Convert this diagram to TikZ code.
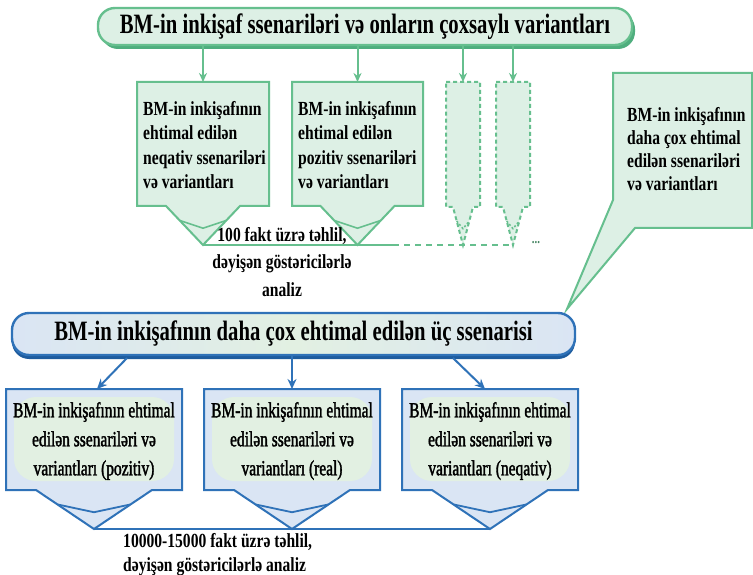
\documentclass[tikz,border=0pt]{standalone}
\usepackage{fontspec}
\setmainfont{Liberation Serif}
\newfontfamily\cbold[FakeStretch=0.78]{Liberation Serif}
\newfontfamily\cboldb[FakeStretch=0.74]{Liberation Serif}
\newfontfamily\creg[FakeStretch=0.72,FakeBold=1.6]{Liberation Serif}
\usetikzlibrary{arrows.meta,shadows,calc}
\definecolor{gline}{HTML}{66BF8E}
\definecolor{gfill}{HTML}{DDF0E5}
\definecolor{gshadow}{HTML}{4FAE7E}
\definecolor{bline}{HTML}{2F72B8}
\definecolor{bfill}{HTML}{DAE5F4}
\definecolor{bshadow}{HTML}{1E5C9E}
\definecolor{blob}{HTML}{E2F0E2}
\newcommand\ptrbox[9]{%
  \pgfmathsetmacro\pbcx{(#2+#3)/2}%
  \pgfmathsetmacro\pbya{#5+0.37*(#7-#5)}%
  \pgfmathsetmacro\pbyb{#5+0.57*(#7-#5)}%
  \pgfmathsetmacro\pbxa{0.63*#6}%
  \draw[#1] (#2,#4) -- (#3,#4) -- (#3,#5) -- (\pbcx+#6,#5) -- (\pbcx,#7) -- (\pbcx-#6,#5) -- (#2,#5) -- cycle;
  \draw[#9] (\pbcx-\pbxa,\pbya) -- (\pbcx,\pbyb) -- (\pbcx+\pbxa,\pbya);
  \coordinate (#8top) at (\pbcx,#4);
  \coordinate (#8tip) at (\pbcx,#7);
}
\tikzset{
  gbox/.style={draw=gline, fill=gfill, line width=2pt, line join=miter},
  gin/.style={draw=gline, line width=1.6pt},
  gdash/.style={draw=gline, fill=gfill, line width=2pt, dash pattern=on 4pt off 3pt},
  gdashin/.style={draw=gline, line width=1.5pt, dash pattern=on 2pt off 2pt},
  bbox/.style={draw=bline, fill=bfill, line width=2pt, line join=miter},
  bin/.style={draw=bline, line width=1.8pt},
  garrow/.style={draw=gline, line width=2pt, -{Stealth[length=9pt,width=8pt]}},
  barrow/.style={draw=bline, line width=2pt, -{Stealth[length=10pt,width=9pt]}},
  gtext/.style={inner sep=0pt, align=left, font=\cbold\bfseries\fontsize{20}{24.5}\selectfont},
  btext/.style={inner sep=0pt, align=center, font=\creg\fontsize{21.5}{29}\selectfont},
  ftext/.style={inner sep=0pt, font=\cbold\bfseries\fontsize{20}{27.5}\selectfont},
}
\begin{document}
\begin{tikzpicture}[x=1pt,y=-1pt]
\useasboundingbox (0,0) rectangle (753,575);
\fill[white] (0,0) rectangle (753,575);

% top banner
\node[draw=gline, line width=2.4pt, fill=gfill, rounded corners=17pt,
      minimum width=534pt, minimum height=37pt, inner sep=0pt,
      drop shadow={shadow xshift=3pt, shadow yshift=-4pt, fill=gshadow, opacity=1},
      font=\cboldb\bfseries\fontsize{28}{30}\selectfont]
  (topb) at (365,26.5) {BM-in inkişaf ssenariləri və onların çoxsaylı variantları};

% right callout
\draw[gbox] (613,73) -- (752,73) -- (752,228) -- (635,228) -- (567,309) -- (613,200) -- cycle;
\node[gtext, anchor=west, font=\cbold\bfseries\fontsize{20}{23}\selectfont] (tC) at (627,149)
  {BM-in inkişafının\\daha çox ehtimal\\edilən ssenariləri\\və variantları};

% green boxes
\ptrbox{gbox}{137}{269}{82}{206}{37}{245}{A}{gin}
\ptrbox{gbox}{292}{423}{82}{206}{37}{245}{B}{gin}
\ptrbox{gdash}{446}{480}{82}{207}{10}{245}{D}{gdashin}
\ptrbox{gdash}{496}{530}{82}{207}{10}{245}{E}{gdashin}

\node[gtext, anchor=west] (tA) at (143,145) {BM-in inkişafının\\ehtimal edilən\\neqativ ssenariləri\\və variantları};
\node[gtext, anchor=west] (tB) at (298,145) {BM-in inkişafının\\ehtimal edilən\\pozitiv ssenariləri\\və variantları};

% green arrows
\draw[garrow] (topb.south -| Atop) -- (Atop);
\draw[garrow] (topb.south -| Btop) -- (Btop);
\draw[garrow] (topb.south -| Dtop) -- (Dtop);
\draw[garrow] (topb.south -| Etop) -- (Etop);

% connecting line (top)
\coordinate (gsplit) at (393,245);
\draw[gline, line width=2pt] (Atip) -- (Btip) -- (gsplit);
\draw[gline, line width=2pt, dash pattern=on 6pt off 5pt] (gsplit) -- (Dtip) -- (Etip);
\node[inner sep=0pt, font=\cbold\bfseries\fontsize{14}{14}\selectfont, text=gline!70!black] (dots) at (536,243) {...};

\node[ftext, align=center] (f1) at (282,262) {100 fakt üzrə təhlil,\\dəyişən göstəricilərlə\\analiz};

% middle banner
\node[draw=bline, line width=2.4pt, left color=bfill, right color=bfill, middle color=blob,
      rounded corners=17pt, minimum width=563pt, minimum height=42pt, inner sep=0pt,
      drop shadow={shadow xshift=0pt, shadow yshift=-4pt, fill=bshadow, opacity=1},
      font=\cboldb\bfseries\fontsize{28}{30}\selectfont]
  (midb) at (293.5,334) {BM-in inkişafının daha çox ehtimal edilən üç ssenarisi};

% bottom boxes
\ptrbox{bbox}{6}{182}{389}{490}{58}{529}{P}{bin}
\ptrbox{bbox}{204}{380}{389}{490}{58}{529}{R}{bin}
\ptrbox{bbox}{402}{578}{389}{490}{58}{529}{N}{bin}
\fill[blob, rounded corners=22pt] (14,397) rectangle (174,481);
\fill[blob, rounded corners=22pt] (212,397) rectangle (372,481);
\fill[blob, rounded corners=22pt] (410,397) rectangle (570,481);

\node[btext] (tP) at (94,441) {BM-in inkişafının ehtimal\\edilən ssenariləri və\\variantları (pozitiv)};
\node[btext] (tR) at (292,441) {BM-in inkişafının ehtimal\\edilən ssenariləri və\\variantları (real)};
\node[btext] (tN) at (490,441) {BM-in inkişafının ehtimal\\edilən ssenariləri və\\variantları (neqativ)};

% blue arrows
\coordinate (m1) at (127,358);
\coordinate (m3) at (453,358);
\draw[barrow] (m1) -- ($(Ptop)+(3,0)$);
\draw[barrow] (midb.south -| Rtop) -- (Rtop);
\draw[barrow] (m3) -- ($(Ntop)+(-5,0)$);

% bottom line
\draw[bline, line width=2pt] (Ptip) -- (Rtip) -- (Ntip);
\node[ftext, align=left, anchor=west, font=\cbold\bfseries\fontsize{20}{24}\selectfont] (f2) at (123,555)
  {10000-15000 fakt üzrə təhlil,\\dəyişən göstəricilərlə analiz};
\end{tikzpicture}
\end{document}
